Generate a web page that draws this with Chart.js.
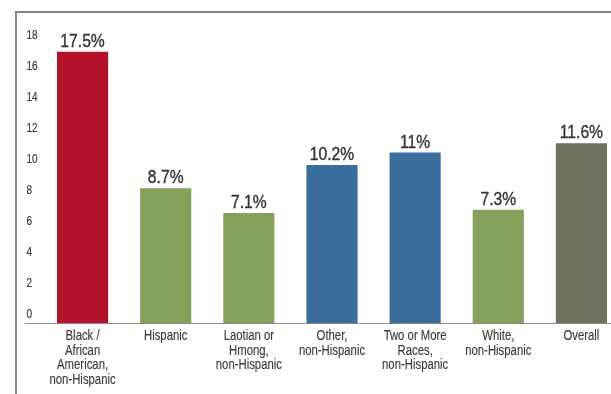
<!DOCTYPE html>
<html>
<head>
<meta charset="utf-8">
<script src="https://cdn.jsdelivr.net/npm/chart.js@4/dist/chart.umd.min.js"></script>
<style>
  html, body { margin: 0; padding: 0; background: #fff; overflow: hidden; }
  #wrap { position: relative; width: 611px; height: 394px; overflow: hidden; }
  #frame {
    position: absolute; left: 15px; top: 11px; right: -5px; bottom: -5px;
    border-left: 2px solid #85887a; border-top: 2px solid #85887a;
    pointer-events: none;
  }
  canvas { position: absolute; left: 0; top: 0; }
</style>
</head>
<body>
<div id="wrap">
  <canvas id="chart" width="623" height="394"></canvas>
  <div id="frame"></div>
</div>
<script>
// chart data
const categories = [
    ['Black /', 'African', 'American,', 'non-Hispanic'],
    ['Hispanic'],
    ['Laotian or', 'Hmong,', 'non-Hispanic'],
    ['Other,', 'non-Hispanic'],
    ['Two or More', 'Races,', 'non-Hispanic'],
    ['White,', 'non-Hispanic'],
    ['Overall']
];
const rates = [17.5, 8.7, 7.1, 10.2, 11, 7.3, 11.6];
const rateLabels = ['17.5%', '8.7%', '7.1%', '10.2%', '11%', '7.3%', '11.6%'];
const barColors = ['#b3122d', '#84a05b', '#84a05b', '#3b6d9c', '#3b6d9c', '#84a05b', '#6f705f'];
const yTicks = [0, 2, 4, 6, 8, 10, 12, 14, 16, 18];

const baseFont = "'Liberation Sans', Arial, sans-serif";

// the reference uses a condensed face, so squeeze text horizontally
function narrowText(ctx, text, x, y, squeeze, align, weight) {
    ctx.save();
    ctx.translate(x, y);
    ctx.scale(squeeze, 1);
    ctx.textAlign = align;
    ctx.fillText(text, 0, 0);
    if (weight) {
        ctx.lineWidth = weight;
        ctx.strokeText(text, 0, 0);
    }
    ctx.restore();
}

const textLayer = {
    id: 'textLayer',
    afterDatasetsDraw(chart) {
        const ctx = chart.ctx;
        const xs = chart.scales.x;
        const ys = chart.scales.y;
        ctx.save();
        ctx.textBaseline = 'alphabetic';

        // baseline
        const y0 = Math.round(ys.getPixelForValue(0)) + 0.5;
        ctx.strokeStyle = '#8a8a8a';
        ctx.lineWidth = 1;
        ctx.beginPath();
        ctx.moveTo(25, y0);
        ctx.lineTo(chart.width, y0);
        ctx.stroke();

        // y tick labels, sitting above their tick
        ctx.fillStyle = '#3a3a3a';
        ctx.strokeStyle = '#3a3a3a';
        ctx.font = '12.5px ' + baseFont;
        yTicks.forEach(v => {
            narrowText(ctx, String(v), 26.5, ys.getPixelForValue(v) - 5, 0.8, 'left', 0.2);
        });

        // category labels
        ctx.font = '14px ' + baseFont;
        categories.forEach((lines, i) => {
            const cx = xs.getPixelForTick(i);
            lines.forEach((line, j) => {
                narrowText(ctx, line, cx, y0 + 16.5 + j * 14.5, 0.81, 'center', 0.15);
            });
        });

        // value labels above each bar
        ctx.fillStyle = '#353535';
        ctx.strokeStyle = '#353535';
        ctx.font = '18px ' + baseFont;
        chart.getDatasetMeta(0).data.forEach((bar, i) => {
            narrowText(ctx, rateLabels[i], bar.x, bar.y - 5, 0.87, 'center', 0.4);
        });
        ctx.restore();
    }
};

new Chart(document.getElementById('chart'), {
    type: 'bar',
    data: {
        labels: categories,
        datasets: [{
            data: rates,
            backgroundColor: barColors,
            borderWidth: 0,
            categoryPercentage: 1,
            barPercentage: 0.615
        }]
    },
    options: {
        responsive: false,
        animation: false,
        devicePixelRatio: 1,
        layout: { padding: { left: 26, top: 13, right: 0, bottom: 0 } },
        plugins: {
            legend: { display: false },
            tooltip: { enabled: false }
        },
        scales: {
            x: {
                grid: { display: false, drawTicks: false },
                border: { display: false },
                ticks: { display: false },
                afterFit(scale) { scale.height = 71; }
            },
            y: {
                min: 0,
                max: 20,
                afterBuildTicks(scale) {
                    scale.ticks = yTicks.map(v => ({ value: v }));
                },
                grid: { display: false, drawTicks: false },
                border: { display: false },
                ticks: { display: false },
                afterFit(scale) { scale.width = 15; }
            }
        }
    },
    plugins: [textLayer]
});
</script>
</body>
</html>
